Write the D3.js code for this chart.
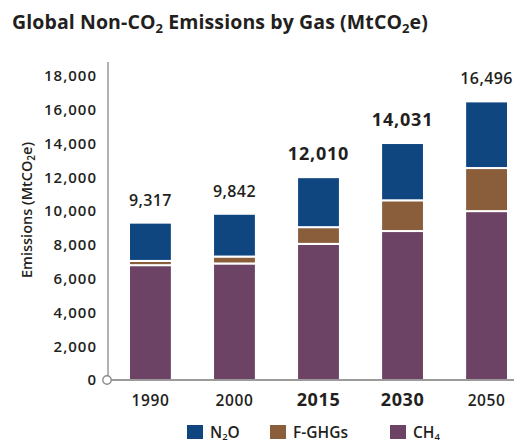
<!DOCTYPE html>
<html>
<head>
<meta charset="utf-8">
<script src="https://cdn.jsdelivr.net/npm/d3@7"></script>
<style>
  html, body { margin: 0; padding: 0; background: #fff; }
  svg { display: block; }
  text { font-family: "Open Sans", "Noto Sans", sans-serif; fill: #231f20; }
</style>
</head>
<body>
<svg id="chart" width="514" height="442"></svg>
<script>
// Emissions by gas, MtCO2e
const years  = ["1990", "2000", "2015", "2030", "2050"];
const ch4    = [6800, 6900, 8060, 8820, 10000];
const fghgs  = [250, 410, 990, 1820, 2550];
const n2o    = [2267, 2532, 2960, 3391, 3946];
const totals = [9317, 9842, 12010, 14031, 16496];
const highlightYears = ["2015", "2030"];
const yTicks = [0, 2000, 4000, 6000, 8000, 10000, 12000, 14000, 16000, 18000];

const gases = [
  { key: "ch4",   label: ["CH", "4"],      color: "#6c4265" },
  { key: "fghgs", label: ["F-GHGs"],       color: "#8a5d3b" },
  { key: "n2o",   label: ["N", "2", "O"],  color: "#0f4680" }
];

const rows = years.map((y, i) => ({ year: y, ch4: ch4[i], fghgs: fghgs[i], n2o: n2o[i], total: totals[i] }));

const svg = d3.select("#chart");
const axisX = 108, baseY = 380, topY = 76;

const x = d3.scaleBand().domain(years).range([axisX, 529]).paddingInner(0.49).paddingOuter(0.25);
const y = d3.scaleLinear().domain([0, 18000]).range([baseY, topY]);

// Title with subscripts
const title = svg.append("text").attr("x", 12).attr("y", 29)
  .attr("font-size", 19.5).attr("font-weight", 700).attr("letter-spacing", 0.1);
title.append("tspan").text("Global Non-CO");
title.append("tspan").text("2").attr("font-size", 13).attr("dy", 4);
title.append("tspan").text(" Emissions by Gas (MtCO").attr("dy", -4);
title.append("tspan").text("2").attr("font-size", 13).attr("dy", 4);
title.append("tspan").text("e)").attr("dy", -4);

// Stacked bars
const stack = d3.stack().keys(gases.map(g => g.key));
const series = stack(rows);
svg.append("g").selectAll("g").data(series).join("g")
  .attr("fill", (d, i) => gases[i].color)
  .selectAll("rect").data(d => d).join("rect")
  .attr("x", d => x(d.data.year))
  .attr("width", x.bandwidth())
  .attr("y", d => y(d[1]))
  .attr("height", d => y(d[0]) - y(d[1]))
  .attr("stroke", "#fff").attr("stroke-width", 2);

// Axes
svg.append("line").attr("x1", axisX).attr("x2", axisX).attr("y1", 62).attr("y2", baseY)
  .attr("stroke", "#9a9a9a").attr("stroke-width", 1.5);
svg.append("line").attr("x1", axisX).attr("x2", 514).attr("y1", baseY).attr("y2", baseY)
  .attr("stroke", "#7a7a7a").attr("stroke-width", 1.5);
svg.append("circle").attr("cx", axisX - 1).attr("cy", baseY).attr("r", 4.2)
  .attr("fill", "#fff").attr("stroke", "#8a8a8a").attr("stroke-width", 1.4);

const yAxis = d3.axisLeft(y).tickValues(yTicks).tickFormat(d3.format(",")).tickSize(0).tickPadding(11);
const gy = svg.append("g").attr("transform", `translate(${axisX},0)`).call(yAxis);
gy.select(".domain").remove();
gy.selectAll("text").attr("font-size", 15).attr("font-weight", 600)
  .attr("letter-spacing", 1).attr("fill", "#231f20").style("font-family", '"Open Sans", sans-serif');

// Y axis title
const yt = svg.append("text").attr("transform", "translate(32,210) rotate(-90)")
  .attr("text-anchor", "middle").attr("font-size", 14.5).attr("font-weight", 600);
yt.append("tspan").text("Emissions (MtCO");
yt.append("tspan").text("2").attr("font-size", 10).attr("dy", 3);
yt.append("tspan").text("e)").attr("dy", -3);

// Year labels
svg.append("g").selectAll("text").data(years).join("text")
  .attr("x", d => x(d) + x.bandwidth() / 2)
  .attr("y", 406)
  .attr("text-anchor", "middle")
  .attr("font-size", d => highlightYears.includes(d) ? 18 : 15.5)
  .attr("font-weight", d => highlightYears.includes(d) ? 700 : 600)
  .attr("letter-spacing", 0.6)
  .text(d => d);

// Totals above bars
const fmt = d3.format(",");
svg.append("g").selectAll("text").data(rows).join("text")
  .attr("x", d => x(d.year) + x.bandwidth() / 2)
  .attr("y", d => y(d.total) - 17)
  .attr("text-anchor", "middle")
  .attr("font-size", d => highlightYears.includes(d.year) ? 18 : 16)
  .attr("font-weight", d => highlightYears.includes(d.year) ? 700 : 600)
  .attr("letter-spacing", d => highlightYears.includes(d.year) ? 0.8 : 0.4)
  .text(d => fmt(d.total));

// Legend, N2O / F-GHGs / CH4
const legendItems = [gases[2], gases[1], gases[0]];
const legendX = [187, 270, 390];
const lg = svg.append("g").selectAll("g").data(legendItems).join("g")
  .attr("transform", (d, i) => `translate(${legendX[i]},425)`);
lg.append("rect").attr("width", 16).attr("height", 14).attr("fill", d => d.color);
lg.each(function(d) {
  const t = d3.select(this).append("text").attr("x", 23).attr("y", 13)
    .attr("font-size", 15.5).attr("font-weight", 600);
  if (d.label.length === 1) {
    t.text(d.label[0]);
  } else {
    t.append("tspan").text(d.label[0]);
    t.append("tspan").text(d.label[1]).attr("font-size", 9.5).attr("dy", 2);
    if (d.label[2]) t.append("tspan").text(d.label[2]).attr("dy", -2);
  }
});
</script>
</body>
</html>
